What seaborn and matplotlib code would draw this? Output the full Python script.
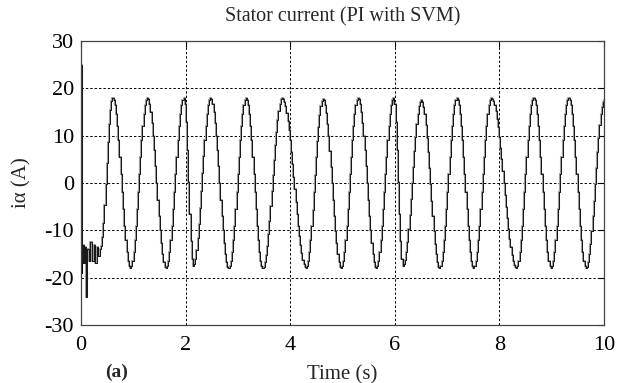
import numpy as np
import pandas as pd
import matplotlib
matplotlib.use("Agg")
import matplotlib.pyplot as plt
import seaborn as sns

# ---- data ----
# start-up transient (time s, current A)
start_t = [0.000, 0.005, 0.011, 0.017, 0.023, 0.040, 0.060, 0.080, 0.100, 0.120,
           0.150, 0.180, 0.210, 0.240, 0.270, 0.300, 0.330, 0.360]
start_v = [0.0, 25.0, -19.0, 21.0, -17.0, -13.0, -17.0, -13.5, -24.0, -14.0,
           -16.5, -12.5, -16.5, -13.0, -17.0, -13.5, -15.5, -14.0]
# steady-state extrema (alternating peak / trough)
ext_t = [0.60, 0.94, 1.26, 1.62, 1.96, 2.14, 2.47, 2.82, 3.15, 3.47,
         3.84, 4.30, 4.62, 4.97, 5.29, 5.64, 5.97, 6.15, 6.50, 6.85,
         7.18, 7.50, 7.84, 8.32, 8.65, 8.98, 9.32, 9.65, 10.0]
ext_v = [18.0, -18.0, 18.0, -18.0, 18.0, -17.5, 18.0, -18.0, 18.0, -18.0,
         18.0, -18.0, 17.8, -18.0, 18.0, -18.0, 18.0, -17.5, 17.5, -18.0,
         18.0, -18.0, 18.0, -18.0, 18.0, -18.0, 18.0, -18.0, 17.5]
x_ticks = [0, 2, 4, 6, 8, 10]
y_ticks = [-30, -20, -10, 0, 10, 20, 30]

# ---- build the stepped waveform (sample-and-hold between read extrema) ----
knots_t = [start_t[-1]] + ext_t
knots_v = [start_v[-1]] + ext_v
ts, vs = list(start_t), list(start_v)
dt = 0.022
for i in range(len(knots_t) - 1):
    t0, t1 = knots_t[i], knots_t[i + 1]
    v0, v1 = knots_v[i], knots_v[i + 1]
    n = max(2, int(round((t1 - t0) / dt)))
    for k in range(1, n + 1):
        f = k / n
        ts.append(t0 + f * (t1 - t0))
        vs.append(v0 + (v1 - v0) * (1 - np.cos(np.pi * f)) / 2)
df = pd.DataFrame({"t": ts, "i": vs})

# ---- plot ----
sns.set_style("white")
plt.rcParams["font.family"] = ["Liberation Serif", "DejaVu Serif"]

fig = plt.figure(figsize=(6.29, 3.83), dpi=100)
ax = fig.add_axes([81 / 629, 1 - 325 / 383, (604 - 81) / 629, (325 - 41) / 383])

sns.lineplot(data=df, x="t", y="i", ax=ax, color="#9a9a9a", lw=1.5,
             drawstyle="steps-post", estimator=None, sort=False)
sns.lineplot(data=df, x="t", y="i", ax=ax, color="black", lw=0.6,
             drawstyle="steps-post", estimator=None, sort=False)

ax.set_xlim(0, 10)
ax.set_ylim(-30, 30)
ax.set_xticks(x_ticks)
ax.set_yticks(y_ticks)
ax.set_xticklabels([str(v) for v in x_ticks])
ax.set_yticklabels([str(v) for v in y_ticks])
ax.tick_params(direction="in", length=4, width=0.8, labelsize=16, colors="black",
               top=True, right=True)
ax.tick_params(axis="x", pad=8)
ax.tick_params(axis="y", pad=5)
ax.grid(True, color="black", linestyle=(0, (2.5, 2)), linewidth=0.7)
for s in ax.spines.values():
    s.set_color("#444444")
    s.set_linewidth(0.9)

ax.set_title("Stator current (PI with SVM)", fontsize=14.5, pad=14)
ax.set_xlabel("Time (s)", fontsize=15, labelpad=7)
ax.set_ylabel("iα (A)", fontsize=15, labelpad=9)
fig.text(117 / 629, 1 - 372 / 383, "(a)", fontsize=14, fontweight="bold",
         ha="center", va="center")

fig.savefig("out.png", dpi=100)
